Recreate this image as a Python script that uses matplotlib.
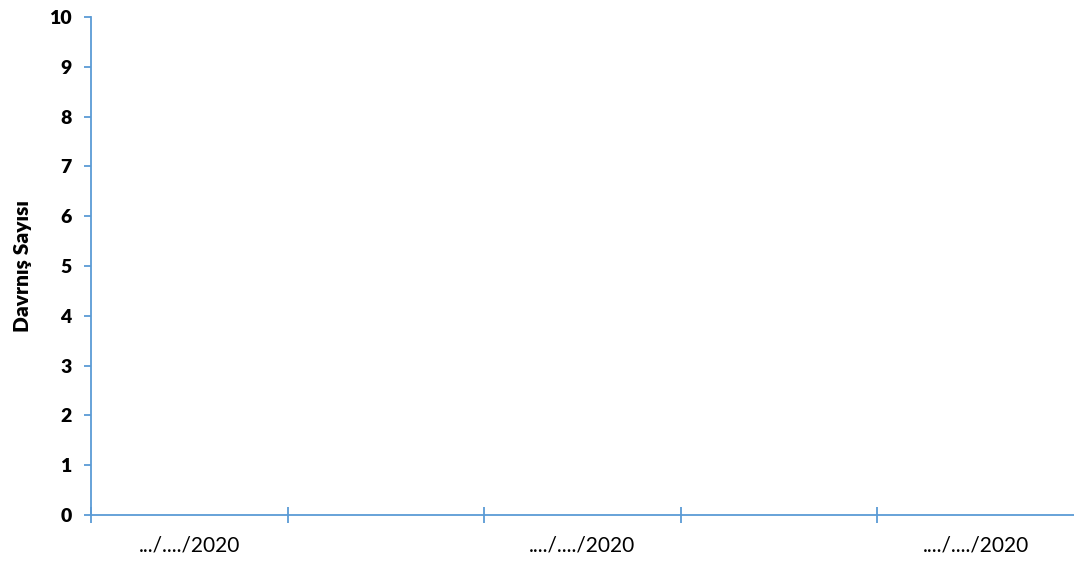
import numpy as np
import matplotlib
matplotlib.use("Agg")
import matplotlib.pyplot as plt

plt.rcParams['font.family'] = ['Lato', 'DejaVu Sans']

# chart data (empty template: no behaviour counts entered yet)
sessions = ['.../..../2020', '', '..../..../2020', '', '..../..../2020']
counts = [np.nan, np.nan, np.nan, np.nan, np.nan]
y_ticks = list(range(0, 11))

axis_col = '#5B9BD5'

fig = plt.figure(figsize=(10.74, 5.64), dpi=100)
ax = fig.add_axes([91/1074, 1 - 515/564, 1 - 91/1074, (515 - 17)/564])

xx = np.arange(len(sessions)) + 0.5
ax.plot(xx, counts, '-o', color=axis_col)

ax.set_xlim(0, len(sessions))
ax.set_ylim(0, 10)

for s in ['top', 'right']:
    ax.spines[s].set_visible(False)
for s in ['left', 'bottom']:
    ax.spines[s].set_color(axis_col)
    ax.spines[s].set_linewidth(1.3)

ax.set_yticks(y_ticks)
ax.set_yticklabels([str(v) for v in y_ticks], fontsize=14, fontweight='heavy')
ax.tick_params(axis='y', direction='out', length=5, width=1.3, color=axis_col, pad=9)

# major ticks mark the category borders, minor ones carry the labels
ax.set_xticks(np.arange(len(sessions)))
ax.set_xticklabels([])
ax.tick_params(axis='x', which='major', direction='inout', length=12, width=1.3, color=axis_col)
ax.set_xticks(xx, minor=True)
ax.set_xticklabels(sessions, minor=True, fontsize=15)
ax.tick_params(axis='x', which='minor', length=0, pad=15)

ax.set_ylabel('Davrnış Sayısı', fontsize=15, fontweight='heavy', labelpad=12)

fig.savefig('out.png', dpi=100)
